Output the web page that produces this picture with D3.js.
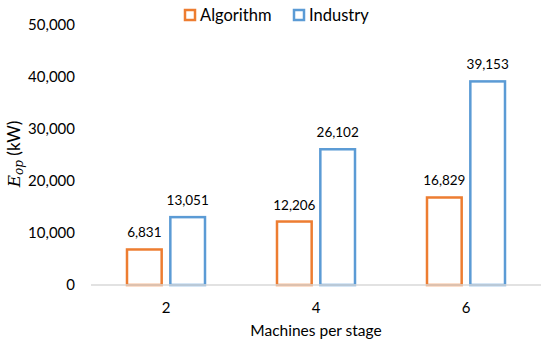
<!DOCTYPE html>
<html>
<head>
<meta charset="utf-8">
<script src="https://cdn.jsdelivr.net/npm/d3@7"></script>
<style>
  body { margin: 0; background: #fff; }
  text { font-family: Lato, "Open Sans", sans-serif; fill: #000; }
</style>
</head>
<body>
<div id="chart"></div>
<script>
// data
const categories = ["2", "4", "6"];
const series = ["Algorithm", "Industry"];
const algorithm = [6831, 12206, 16829];
const industry = [13051, 26102, 39153];
const yTicks = [0, 10000, 20000, 30000, 40000, 50000];
const colors = ["#ED7D31", "#5B9BD5"];

const W = 550, H = 347;
const margin = { top: 25, right: 9, bottom: 62, left: 91 };
const width = W - margin.left - margin.right;
const height = H - margin.top - margin.bottom;

const svg = d3.select("#chart")
  .append("svg")
  .attr("width", W)
  .attr("height", H)
  .append("g")
  .attr("transform", `translate(${margin.left},${margin.top})`);

const rows = categories.map((c, i) => ({ cat: c, Algorithm: algorithm[i], Industry: industry[i] }));

const x = d3.scaleBand().domain(categories).range([0, width]);
const xSub = d3.scaleBand().domain(series).range([36, 114]).paddingInner(0.2);
const y = d3.scaleLinear().domain([0, 50000]).range([height, 0]);
const color = d3.scaleOrdinal().domain(series).range(colors);
const fmt = d3.format(",");

// y axis labels
svg.append("g")
  .selectAll("text")
  .data(yTicks)
  .join("text")
  .attr("x", -16)
  .attr("y", d => y(d))
  .attr("dy", "0.35em")
  .attr("text-anchor", "end")
  .style("font-size", "15px")
  .text(d => fmt(d));

// bars
const groups = svg.append("g")
  .selectAll("g")
  .data(rows)
  .join("g")
  .attr("transform", d => `translate(${x(d.cat)},0)`);

groups.selectAll("rect")
  .data(d => series.map(k => ({ key: k, value: d[k] })))
  .join("rect")
  .attr("x", d => xSub(d.key))
  .attr("y", d => y(d.value))
  .attr("width", xSub.bandwidth())
  .attr("height", d => height - y(d.value))
  .attr("fill", "#fff")
  .attr("stroke", d => color(d.key))
  .attr("stroke-width", 2.5);

groups.selectAll("text.val")
  .data(d => series.map(k => ({ key: k, value: d[k] })))
  .join("text")
  .attr("class", "val")
  .attr("x", d => xSub(d.key) + xSub.bandwidth() / 2)
  .attr("y", d => y(d.value) - 12)
  .attr("text-anchor", "middle")
  .style("font-size", "13.5px")
  .text(d => fmt(d.value));

// baseline
svg.append("line")
  .attr("x1", 0).attr("x2", width)
  .attr("y1", height).attr("y2", height)
  .attr("stroke", "#d9d9d9")
  .attr("stroke-width", 1.5);

// x labels
svg.append("g")
  .selectAll("text")
  .data(categories)
  .join("text")
  .attr("x", d => x(d) + x.bandwidth() / 2)
  .attr("y", height + 23)
  .attr("dy", "0.35em")
  .attr("text-anchor", "middle")
  .style("font-size", "15px")
  .text(d => d);

svg.append("text")
  .attr("x", width / 2)
  .attr("y", height + 46)
  .attr("dy", "0.35em")
  .attr("text-anchor", "middle")
  .style("font-size", "15.5px")
  .text("Machines per stage");

// y title
const yt = svg.append("text")
  .attr("transform", `translate(${-71},${129}) rotate(-90)`)
  .attr("text-anchor", "middle")
  .style("font-size", "17px");
yt.append("tspan")
  .style("font-family", "'DejaVu Serif', serif")
  .style("font-style", "italic")
  .text("E");
yt.append("tspan")
  .style("font-family", "'DejaVu Serif', serif")
  .style("font-style", "italic")
  .style("font-size", "12px")
  .attr("dy", 3)
  .text("op");
yt.append("tspan")
  .attr("dy", -3)
  .text(" (kW)");

// legend
const legend = svg.append("g").attr("transform", `translate(${94},${-10})`);
const items = legend.selectAll("g")
  .data(series)
  .join("g")
  .attr("transform", (d, i) => `translate(${i * 109},0)`);
items.append("rect")
  .attr("x", 0).attr("y", -5)
  .attr("width", 10).attr("height", 10)
  .attr("fill", "#fff")
  .attr("stroke", d => color(d))
  .attr("stroke-width", 2.5);
items.append("text")
  .attr("x", 15)
  .attr("dy", "0.35em")
  .style("font-size", "16.5px")
  .text(d => d);
</script>
</body>
</html>
